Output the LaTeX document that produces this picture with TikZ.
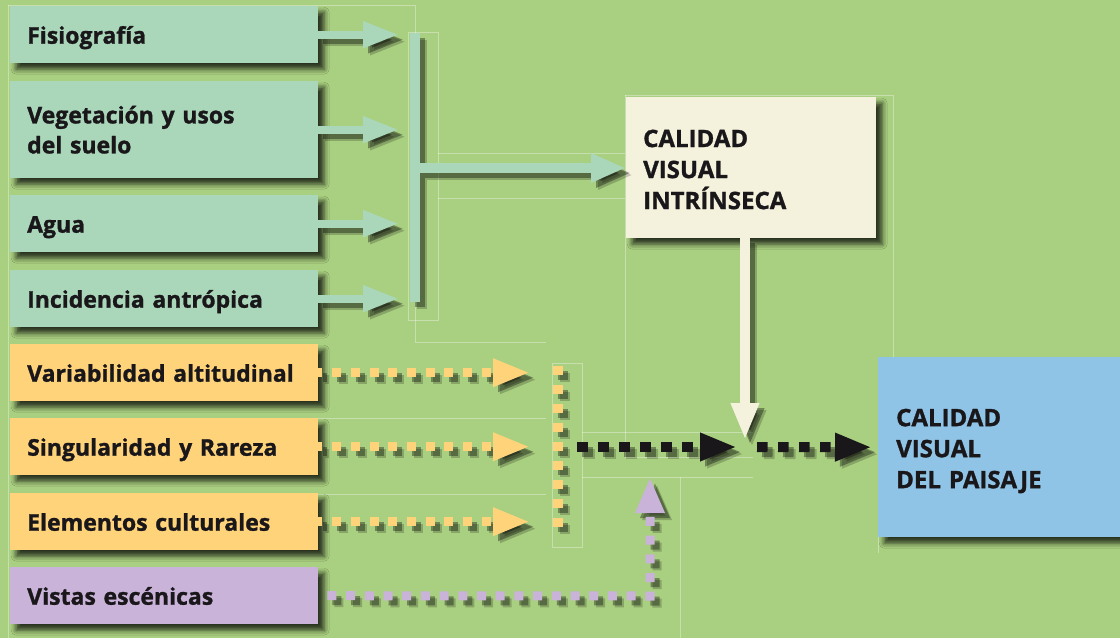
\documentclass[tikz,border=0pt]{standalone}
\usepackage{fontspec}
\setmainfont{Open Sans}[BoldFeatures={FakeBold=1.2}]
\usetikzlibrary{arrows.meta,shadows.blur}
\definecolor{cbg}{HTML}{A9CF80}
\definecolor{cteal}{HTML}{AAD7B9}
\definecolor{cyel}{HTML}{FFD37A}
\definecolor{clil}{HTML}{C9B3D8}
\definecolor{ccream}{HTML}{F4F2DC}
\definecolor{cblue}{HTML}{8FC4E6}
\definecolor{cdark}{HTML}{1A171B}
\newcommand\shadowdraw[2]{%
  \draw[#1, draw=black, draw opacity=0.2, fill opacity=0.2, transform canvas={shift={(7pt,-7pt)}}] #2;
  \draw[#1, draw=black, draw opacity=0.35, fill opacity=0.35, transform canvas={shift={(5pt,-5pt)}}] #2;
  \draw[#1] #2;}
\tikzset{
  x=1pt, y=-1pt,
  boxbase/.style={rectangle, anchor=north west, inner xsep=17pt, inner ysep=0pt,
    align=left, text=cdark, font=\bfseries\fontsize{23}{30}\selectfont,
    blur shadow={shadow xshift=6pt, shadow yshift=-6pt, shadow opacity=75, shadow blur radius=5pt}},
  leftbox/.style={boxbase, text width=274pt, minimum height=57pt, text height=18pt, text depth=0pt},
  bigbox/.style={boxbase, font=\bfseries\fontsize{24}{31}\selectfont},
  tealarr/.style={draw=cteal, line width=8pt, -{Triangle[length=36pt,width=25pt]}},
  tealbig/.style={draw=cteal, line width=10pt, -{Triangle[length=35pt,width=27pt]}},
  tealbar/.style={draw=cteal, line width=10pt},
  yelarr/.style={draw=cyel, line width=9pt, dash pattern=on 9pt off 9.7pt, dash phase=5pt, -{Triangle[length=37pt,width=26pt]}},
  yelbar/.style={draw=cyel, line width=10pt, dash pattern=on 9pt off 10pt},
  blkarr/.style={draw=cdark, line width=10pt, dash pattern=on 10.5pt off 10.5pt, -{Triangle[length=37pt,width=26pt]}},
  lilarr/.style={draw=clil, line width=9pt, dash pattern=on 9pt off 9.7pt, dash phase=9.7pt, -{Triangle[length=36pt,width=27pt]}},
  creamarr/.style={draw=ccream, line width=10pt, -{Triangle[length=37pt,width=26pt]}},
  guide/.style={draw=white, draw opacity=0.35, line width=0.7pt},
}
\begin{document}
\begin{tikzpicture}
\useasboundingbox (0,0) rectangle (1120,638);
\fill[cbg] (0,0) rectangle (1120,638);

% faint guide lines
\draw[guide] (8,5) -- (415,5) -- (415,342) -- (546,342);
\draw[guide] (8,5) -- (8,638);
\draw[guide] (408,32) rectangle (438,320);
\draw[guide] (438,153) -- (625,153);
\draw[guide] (438,198) -- (625,198);
\draw[guide] (625,95) -- (893,95) -- (893,357);
\draw[guide] (625,95) -- (625,457) -- (753,457);
\draw[guide] (582,432) -- (753,432);
\draw[guide] (318,418) -- (546,418);
\draw[guide] (318,494) -- (546,494);
\draw[guide] (552,363) rectangle (582,547);
\draw[guide] (582,477) -- (753,477);
\draw[guide] (680,477) -- (680,638);
\draw[guide] (878,357) -- (878,553);

% boxes
\node[leftbox, fill=cteal] (f) at (10,6) {Fisiografía};
\node[leftbox, fill=cteal, minimum height=97pt, text height={}, text depth={}] (v) at (10,81) {Vegetación y usos\\del suelo};
\node[leftbox, fill=cteal] (a) at (10,195) {Agua};
\node[leftbox, fill=cteal] (i) at (10,270) {Incidencia antrópica};
\node[leftbox, fill=cyel] (va) at (10,344) {Variabilidad altitudinal};
\node[leftbox, fill=cyel] (si) at (10,418) {Singularidad y Rareza};
\node[leftbox, fill=cyel] (el) at (10,493) {Elementos culturales};
\node[leftbox, fill=clil] (vi) at (10,567) {Vistas escénicas};
\node[bigbox, fill=ccream, text width=216pt, minimum height=141pt] (cvi) at (626,97) {\rule{0pt}{21pt}CALIDAD\\VISUAL\\INTRÍNSECA};
\node[bigbox, fill=cblue, inner xsep=18pt, text width=224pt, minimum height=180pt] (cvp) at (878,357) {\rule{0pt}{25pt}CALIDAD\\VISUAL\\DEL PAISAJE};

% helper coordinates
\coordinate (tx) at (399,0);
\coordinate (bartop) at (415,33);
\coordinate (barbot) at (415,302);
\coordinate (barmid) at (420,168);
\coordinate (yx) at (530,0);
\coordinate (yvt) at (558,366);
\coordinate (yvb) at (558,528);
\coordinate (bs) at (577,447);
\coordinate (b1) at (737,447);
\coordinate (b2) at (757,447);
\coordinate (ctop) at (745,237);
\coordinate (ctip) at (745,440);
\coordinate (lc) at (650,596);
\coordinate (ltip) at (650,477);

% teal connectors
\shadowdraw{tealarr}{(f.east) -- (f.east -| tx)}
\shadowdraw{tealarr}{(v.east) -- (v.east -| tx)}
\shadowdraw{tealarr}{(a.east) -- (a.east -| tx)}
\shadowdraw{tealarr}{(i.east) -- (i.east -| tx)}
\shadowdraw{tealbar}{(bartop) -- (barbot)}
\shadowdraw{tealbig}{(barmid) -- (cvi.west |- barmid)}

% yellow connectors
\shadowdraw{yelarr}{(va.east) -- (va.east -| yx)}
\shadowdraw{yelarr}{(si.east) -- (si.east -| yx)}
\shadowdraw{yelarr}{(el.east) -- (el.east -| yx)}
\shadowdraw{yelbar}{(yvt) -- (yvb)}

% lilac connector
\shadowdraw{lilarr}{(vi.east) -- (lc) -- (ltip)}

% cream connector
\shadowdraw{creamarr}{(cvi.south -| ctop) -- (ctip)}

% black connectors
\shadowdraw{blkarr}{(bs) -- (b1)}
\shadowdraw{blkarr}{(b2) -- ([xshift=-6pt]cvp.west)}
\end{tikzpicture}
\end{document}
